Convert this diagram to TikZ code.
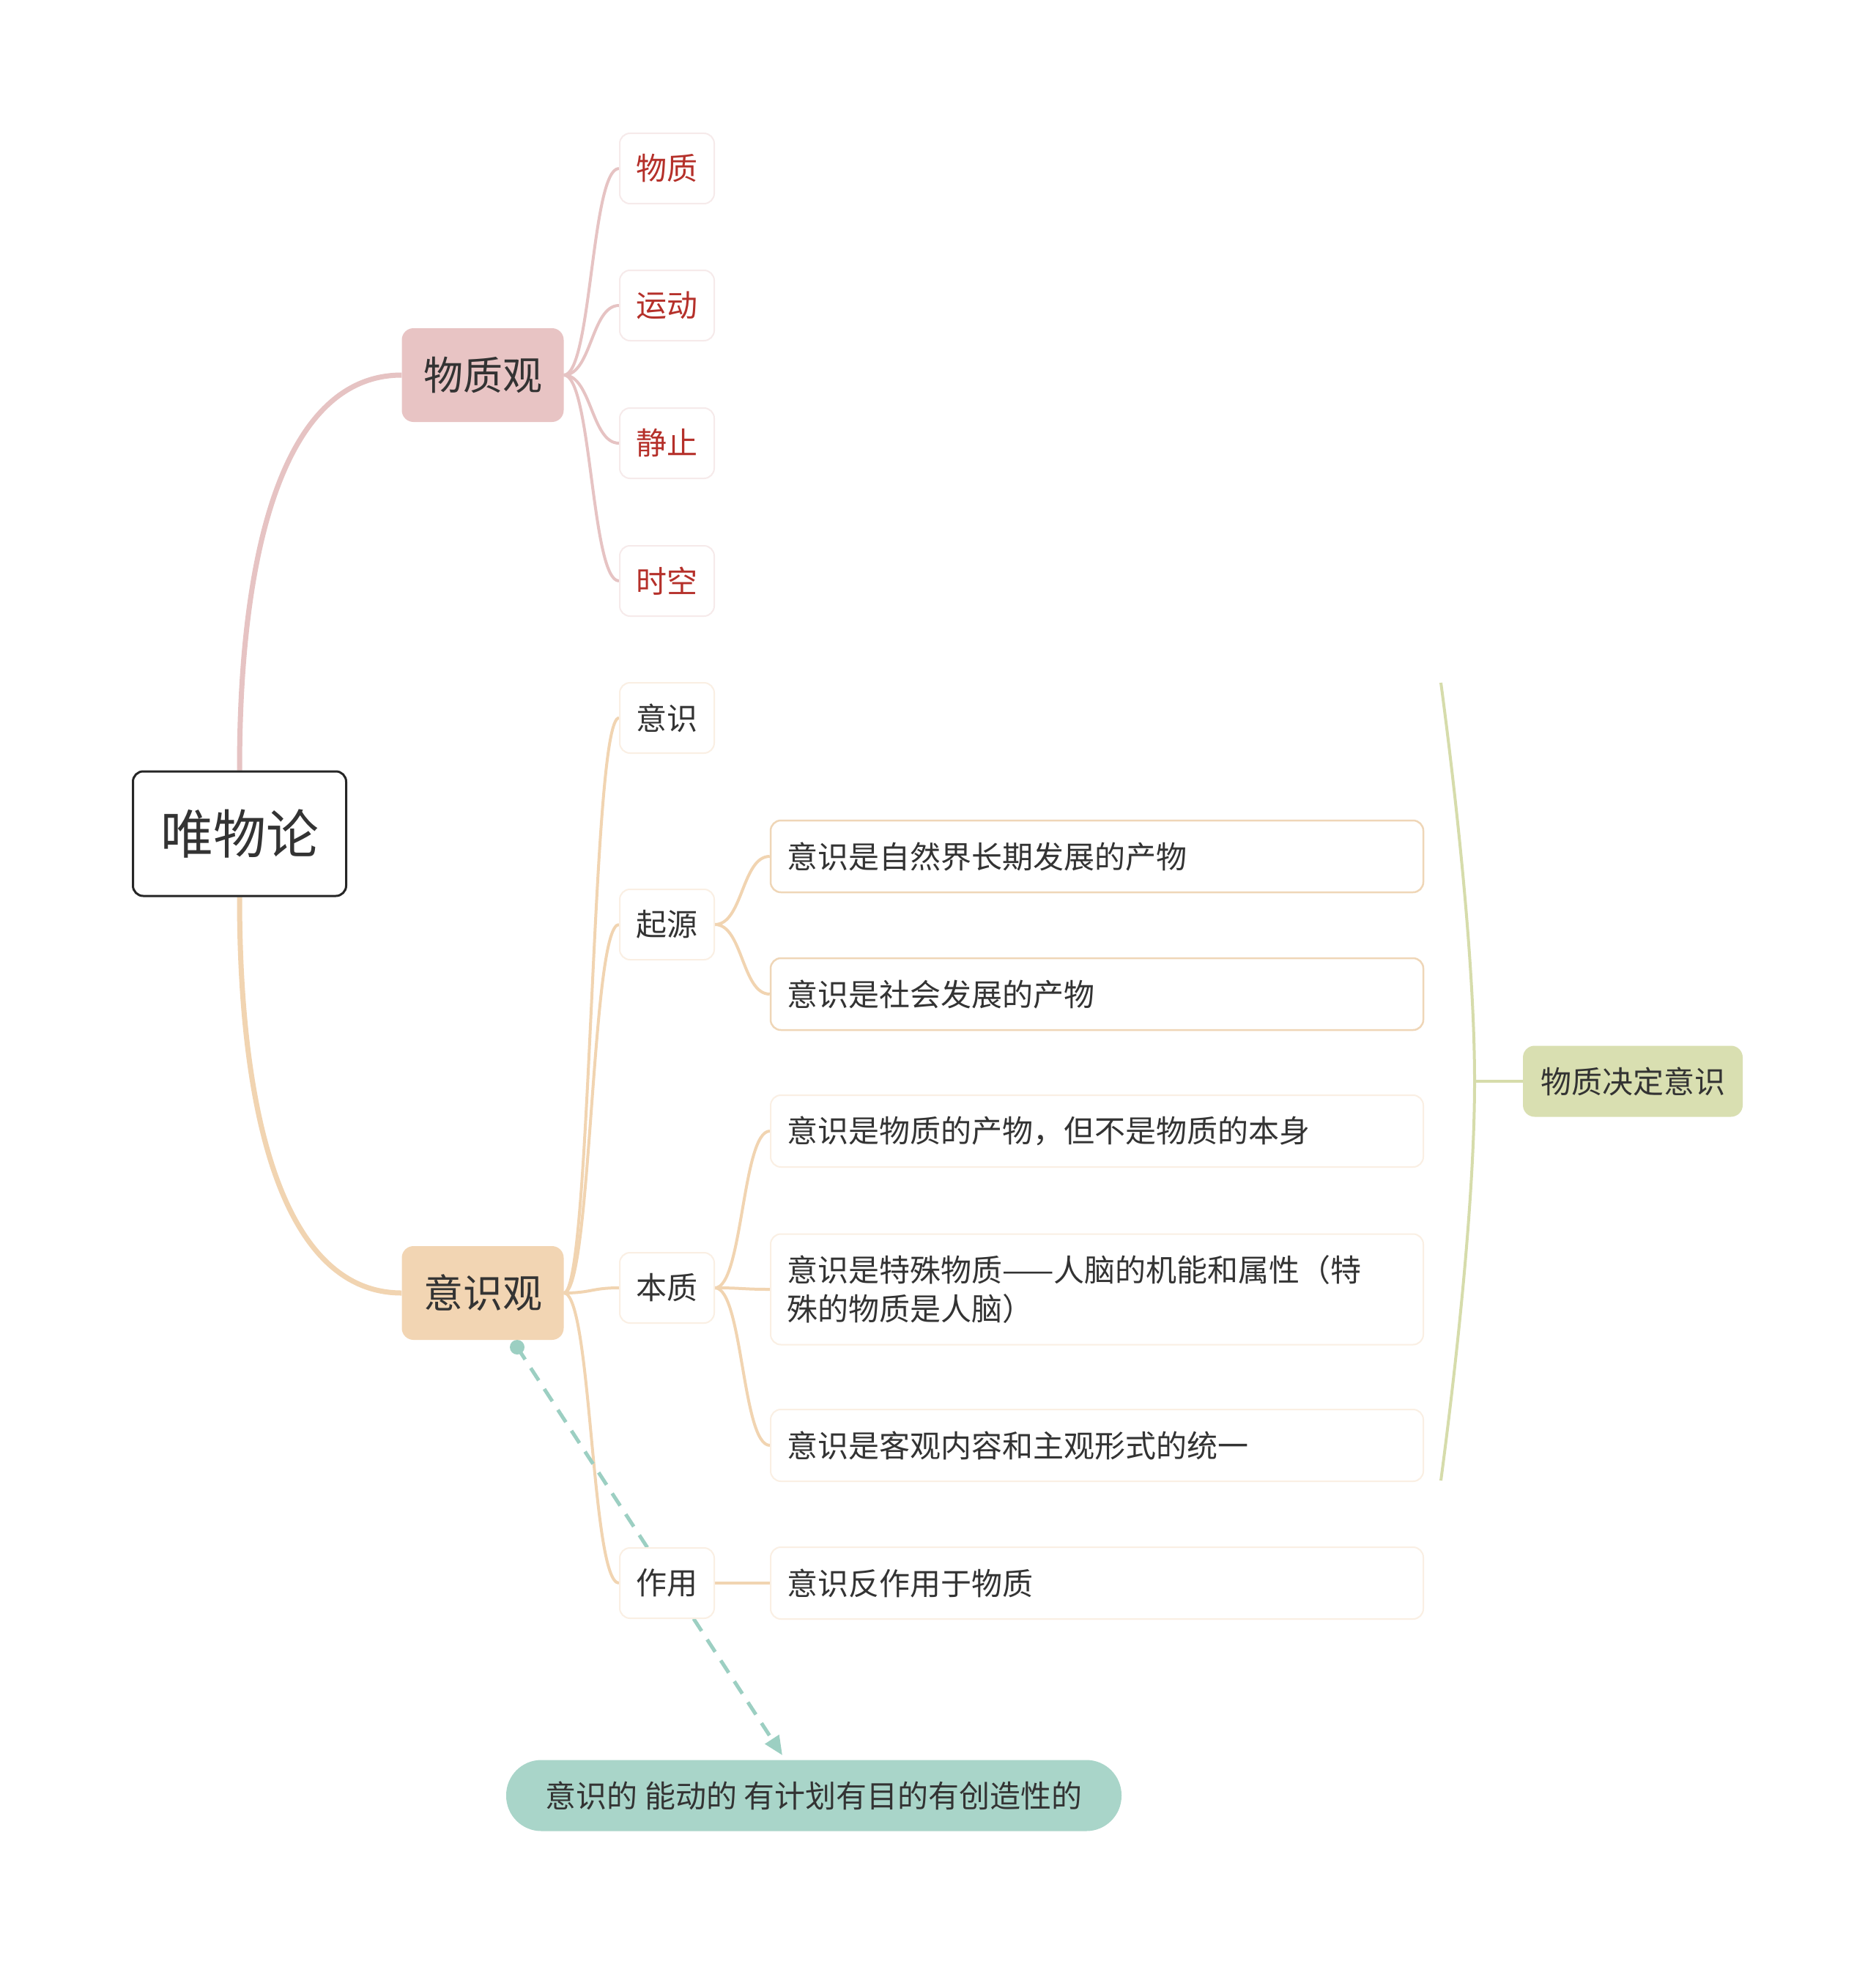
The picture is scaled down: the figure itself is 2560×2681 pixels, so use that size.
\documentclass[tikz,border=0pt]{standalone}
\usepackage{fontspec}
\setmainfont{Noto Sans CJK SC}
\usetikzlibrary{arrows.meta,backgrounds}
\definecolor{pinkfill}{HTML}{E8C4C4}
\definecolor{pinkline}{HTML}{E6C3C3}
\definecolor{pinkborder}{HTML}{F6EAEA}
\definecolor{orangefill}{HTML}{F2D5B3}
\definecolor{orangeline}{HTML}{F1D4B1}
\definecolor{orangeborder}{HTML}{FAEFE3}
\definecolor{leafborder}{HTML}{EFD6B7}
\definecolor{greenfill}{HTML}{D9DFB1}
\definecolor{greenline}{HTML}{D6DCAB}
\definecolor{tealfill}{HTML}{A9D5C9}
\definecolor{tealline}{HTML}{9CCFC2}
\definecolor{redtext}{HTML}{B5302A}
\definecolor{darktext}{HTML}{333333}
\begin{document}
\begin{tikzpicture}[x=1pt,y=-1pt,
  rootbox/.style={draw=black!85,line width=3pt,fill=white,rounded corners=14pt,
    minimum width=291pt,minimum height=170pt,inner sep=0pt,text=darktext,
    font=\fontsize{72}{80}\selectfont},
  mainbox/.style={rounded corners=16pt,minimum width=221pt,minimum height=128pt,
    inner sep=0pt,text=darktext,font=\fontsize{54}{60}\selectfont},
  subbox/.style={fill=white,line width=2pt,rounded corners=14pt,minimum width=129pt,
    minimum height=96pt,inner sep=0pt,font=\fontsize{42}{50}\selectfont},
  leafbox/.style={fill=white,line width=2.5pt,rounded corners=14pt,minimum width=891pt,
    text width=847pt,align=left,inner xsep=22pt,inner ysep=0pt,minimum height=98pt,
    text=darktext,font=\fontsize{42}{53}\selectfont},
  pinkconn/.style={draw=pinkline,line width=4pt},
  orangeconn/.style={draw=orangeline,line width=4pt},
]
\useasboundingbox (0,0) rectangle (2560,2681);

% root and main nodes
\node[rootbox] (root) at (327,1138) {唯物论};
\node[mainbox,fill=pinkfill] (wzg) at (659,512) {物质观};
\node[mainbox,fill=orangefill] (ysg) at (659,1765) {意识观};

% 物质观 children
\node[subbox,draw=pinkborder,text=redtext] (wz) at (910.5,230) {物质};
\node[subbox,draw=pinkborder,text=redtext] (yd) at (910.5,417) {运动};
\node[subbox,draw=pinkborder,text=redtext] (jz) at (910.5,605) {静止};
\node[subbox,draw=pinkborder,text=redtext] (sk) at (910.5,793) {时空};

% 意识观 children
\node[subbox,draw=orangeborder,text=darktext] (ys) at (910.5,980) {意识};
\node[subbox,draw=orangeborder,text=darktext] (qy) at (910.5,1262) {起源};
\node[subbox,draw=orangeborder,text=darktext] (bz) at (910.5,1758) {本质};
\node[subbox,draw=orangeborder,text=darktext] (zy) at (910.5,2161) {作用};

% leaves
\node[leafbox,draw=leafborder] (q1) at (1497.5,1169) {意识是自然界长期发展的产物};
\node[leafbox,draw=leafborder] (q2) at (1497.5,1357) {意识是社会发展的产物};
\node[leafbox,draw=orangeborder,line width=2pt] (b1) at (1497.5,1544) {意识是物质的产物，但不是物质的本身};
\node[leafbox,draw=orangeborder,line width=2pt,minimum height=151pt] (b2) at (1497.5,1760) {意识是特殊物质——人脑的机能和属性（特\\殊的物质是人脑）};
\node[leafbox,draw=orangeborder,line width=2pt] (b3) at (1497.5,1973) {意识是客观内容和主观形式的统一};
\node[leafbox,draw=orangeborder,line width=2pt] (z1) at (1497.5,2161) {意识反作用于物质};

% summary
\node[fill=greenfill,rounded corners=16pt,minimum width=300pt,minimum height=97pt,
  inner sep=0pt,text=darktext,font=\fontsize{42}{50}\selectfont] (sum) at (2229,1476) {物质决定意识};

% bottom floating node
\node[fill=tealfill,rounded corners=48pt,minimum width=840pt,minimum height=97pt,
  inner sep=0pt,text=darktext,font=\fontsize{42}{50}\selectfont] (act) at (1111,2451) {意识的 能动的 有计划有目的有创造性的};

\begin{pgfonlayer}{background}
\fill[white] (0,0) rectangle (2560,2681);

% root connectors
\draw[draw=pinkline,line width=7pt] (root.north) .. controls +(0,-330) and +(-150,0) .. (wzg.west);
\draw[draw=orangeline,line width=7pt] (root.south) .. controls +(0,330) and +(-150,0) .. (ysg.west);

% 物质观 connectors
\foreach \c in {wz,yd,jz,sk}{
  \draw[pinkconn] (wzg.east) .. controls +(38,0) and +(-38,0) .. (\c.west);
}
% 意识观 connectors
\foreach \c in {ys,qy,bz,zy}{
  \draw[orangeconn] (ysg.east) .. controls +(38,0) and +(-38,0) .. (\c.west);
}
\foreach \c in {q1,q2}{
  \draw[orangeconn] (qy.east) .. controls +(38,0) and +(-38,0) .. (\c.west);
}
\foreach \c in {b1,b2,b3}{
  \draw[orangeconn] (bz.east) .. controls +(38,0) and +(-38,0) .. (\c.west);
}
\draw[orangeconn] (zy.east) -- (z1.west);

% summary bracket
\coordinate (st) at (1967,932);
\coordinate (sb) at (1967,2021);
\coordinate (sm) at (2013,1476);
\draw[draw=greenline,line width=4pt] (st) .. controls (1992,1120) and (2013,1330) .. (sm)
  .. controls (2013,1622) and (1992,1832) .. (sb);
\draw[draw=greenline,line width=4pt] (sm) -- (sum.west);

% dashed relation
\coordinate (dstart) at (706,1839);
\coordinate (dend) at (1068,2396);
\fill[tealline] (dstart) circle (10pt);
\draw[draw=tealline,line width=5pt,dash pattern=on 20pt off 14pt,
  -{Triangle[length=26pt,width=22pt]}] (dstart) -- (dend);
\end{pgfonlayer}
\end{tikzpicture}
\end{document}
